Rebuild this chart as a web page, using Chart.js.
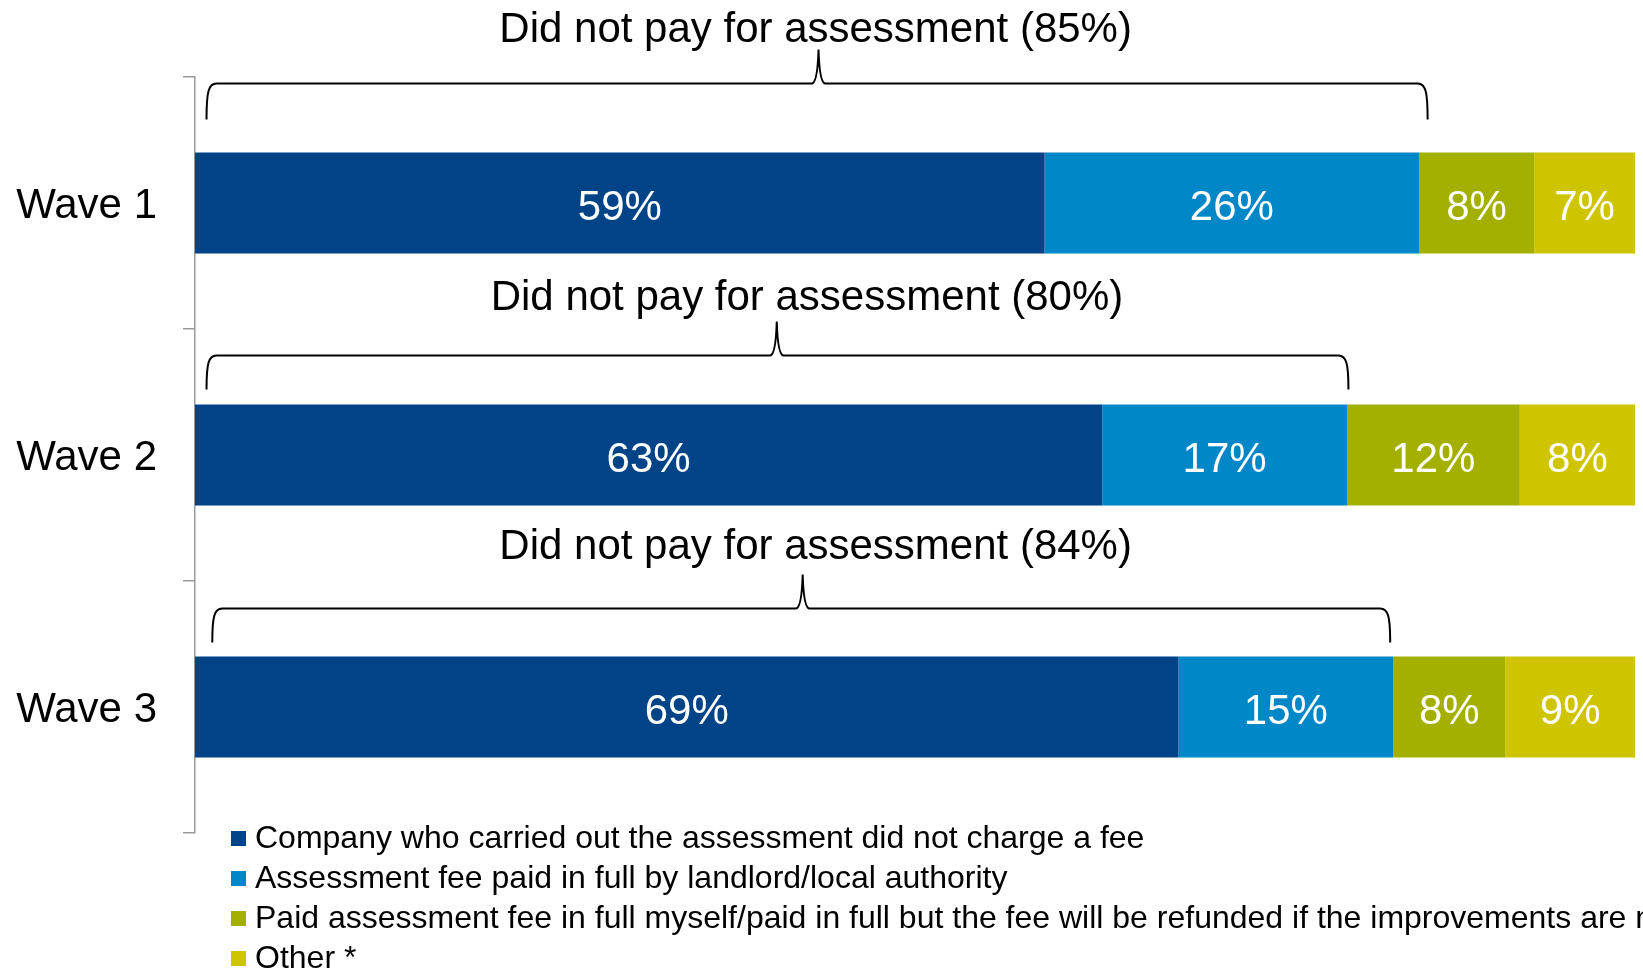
<!DOCTYPE html>
<html lang="en">
<head>
    <meta charset="UTF-8">
    <title>Payment for assessment by wave</title>
    <script src="https://cdn.jsdelivr.net/npm/chart.js"></script>
    <style>
        body {
            margin: 0;
            background-color: #fff;
        }

        .wrap {
            width: 1643px;
            height: 973px;
            position: relative;
        }
    </style>
</head>
<body>

    <div class="wrap">
        <canvas id="feeChart"></canvas>
    </div>

    <script>
        // Data
        const categories = ['Wave 1', 'Wave 2', 'Wave 3'];
        const seriesNames = [
            'Company who carried out the assessment did not charge a fee',
            'Assessment fee paid in full by landlord/local authority',
            'Paid assessment fee in full myself/paid in full but the fee will be refunded if the improvements are not made',
            'Other *'
        ];
        const noFee = [59, 63, 68.3];
        const landlordPaid = [26, 17, 14.9];
        const paidMyself = [8, 12, 7.8];
        const other = [7, 8, 9.0];
        // printed labels (rounded as in the source)
        const noFeeText = ['59%', '63%', '69%'];
        const landlordText = ['26%', '17%', '15%'];
        const paidMyselfText = ['8%', '12%', '8%'];
        const otherText = ['7%', '8%', '9%'];
        const didNotPay = [85, 80, 84];

        const colors = ['#004387', '#0087C7', '#A4B000', '#CFC400'];
        const FONT = '"Liberation Sans", Arial, sans-serif';

        // brace placement (in % of the x axis) and offsets in px
        const braceLayout = {
            start: [0.8, 0.8, 1.2],
            end: [85.6, 80.1, 83.0],
            tip: [43.3, 40.4, 42.2],
            textCenter: [43.1, 42.5, 43.1],
            lineAboveBar: [69, 49, 48],
            depth: [36, 34, 34],
            textAboveLine: [53, 57, 61],
            tipHeight: 34
        };

        const allText = [noFeeText, landlordText, paidMyselfText, otherText];

        // white percentages inside each segment
        const barLabels = {
            id: 'barLabels',
            afterDatasetsDraw(chart) {
                const ctx = chart.ctx;
                ctx.save();
                ctx.font = '42px ' + FONT;
                ctx.fillStyle = '#fff';
                ctx.textAlign = 'center';
                ctx.textBaseline = 'middle';
                chart.data.datasets.forEach((ds, i) => {
                    chart.getDatasetMeta(i).data.forEach((bar, j) => {
                        const x = (bar.x + bar.base) / 2;
                        ctx.fillText(allText[i][j], x, bar.y + 5);
                    });
                });
                ctx.restore();
            }
        };

        // curly braces + "Did not pay" captions
        const braces = {
            id: 'braces',
            afterDraw(chart) {
                const ctx = chart.ctx;
                const xs = chart.scales.x;
                const meta = chart.getDatasetMeta(0);
                ctx.save();
                ctx.strokeStyle = '#000';
                ctx.lineWidth = 2;
                categories.forEach((c, j) => {
                    const bar = meta.data[j];
                    const top = bar.y - bar.height / 2;
                    const y = top - braceLayout.lineAboveBar[j];
                    const d = braceLayout.depth[j];
                    const x0 = xs.getPixelForValue(braceLayout.start[j]);
                    const x1 = xs.getPixelForValue(braceLayout.end[j]);
                    const xt = xs.getPixelForValue(braceLayout.tip[j]);
                    const th = braceLayout.tipHeight;
                    ctx.beginPath();
                    ctx.moveTo(x0, y + d);
                    ctx.bezierCurveTo(x0, y + 8, x0 + 2, y, x0 + 10, y);
                    ctx.lineTo(xt - 7, y);
                    ctx.quadraticCurveTo(xt - 1, y, xt, y - th);
                    ctx.quadraticCurveTo(xt + 1, y, xt + 7, y);
                    ctx.lineTo(x1 - 10, y);
                    ctx.bezierCurveTo(x1 - 2, y, x1, y + 8, x1, y + d);
                    ctx.stroke();

                    ctx.font = '42px ' + FONT;
                    ctx.fillStyle = '#000';
                    ctx.textAlign = 'center';
                    ctx.textBaseline = 'middle';
                    ctx.fillText('Did not pay for assessment (' + didNotPay[j] + '%)',
                        xs.getPixelForValue(braceLayout.textCenter[j]), y - braceLayout.textAboveLine[j]);
                });
                ctx.restore();
            }
        };

        // legend stacked one item per line under the axis
        const stackedLegend = {
            id: 'stackedLegend',
            afterDraw(chart) {
                const ctx = chart.ctx;
                const left = chart.chartArea.left + 36;
                const startY = chart.chartArea.bottom + 5;
                ctx.save();
                ctx.font = '32px ' + FONT;
                ctx.textAlign = 'left';
                ctx.textBaseline = 'middle';
                chart.data.datasets.forEach((ds, i) => {
                    const y = startY + i * 40;
                    ctx.fillStyle = ds.backgroundColor;
                    ctx.fillRect(left, y - 7, 15, 15);
                    ctx.fillStyle = '#000';
                    ctx.fillText(ds.label, left + 24, y + 1);
                });
                ctx.restore();
            }
        };

        const seriesValues = [noFee, landlordPaid, paidMyself, other];

        const config = {
            type: 'bar',
            data: {
                labels: categories,
                datasets: seriesNames.map((name, i) => ({
                    label: name,
                    data: seriesValues[i],
                    backgroundColor: colors[i],
                    borderWidth: 0,
                    barPercentage: 1,
                    categoryPercentage: 0.4
                }))
            },
            options: {
                indexAxis: 'y',
                responsive: true,
                maintainAspectRatio: false,
                animation: false,
                layout: {
                    padding: { top: 77, bottom: 140, right: 8, left: 0 }
                },
                plugins: {
                    legend: { display: false },
                    tooltip: { enabled: false },
                    title: { display: false }
                },
                scales: {
                    x: {
                        stacked: true,
                        display: false,
                        min: 0,
                        max: 100
                    },
                    y: {
                        stacked: true,
                        afterFit(scale) {
                            scale.width = 195;
                        },
                        border: {
                            display: true,
                            color: '#9a9a9a',
                            width: 1.5
                        },
                        grid: {
                            drawOnChartArea: false,
                            drawTicks: true,
                            tickLength: 12,
                            color: '#9a9a9a',
                            lineWidth: 1.5
                        },
                        ticks: {
                            color: '#000',
                            padding: 26,
                            labelOffset: 3,
                            font: { family: FONT, size: 42 }
                        }
                    }
                }
            },
            plugins: [barLabels, braces, stackedLegend]
        };

        const ctx = document.getElementById('feeChart').getContext('2d');
        const feeChart = new Chart(ctx, config);
    </script>

</body>
</html>
